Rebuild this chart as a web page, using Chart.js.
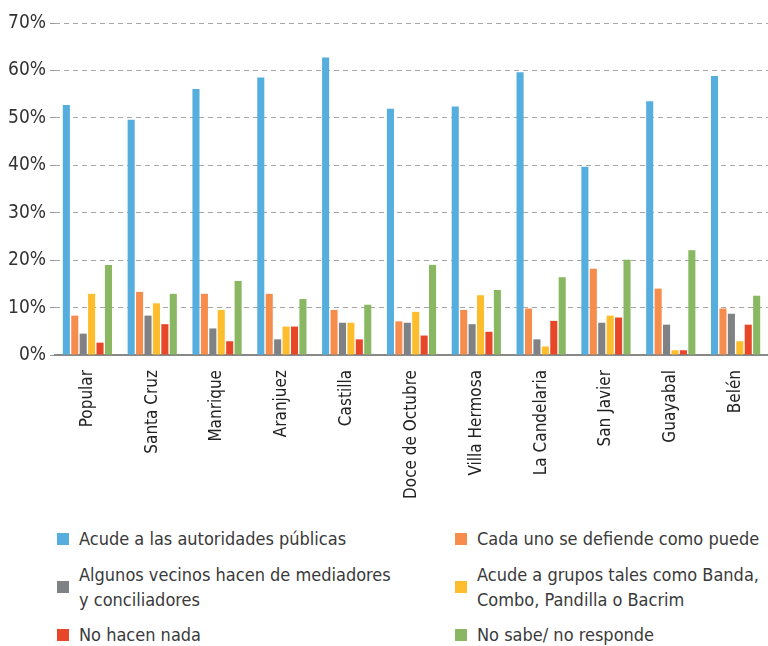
<!DOCTYPE html>
<html>
<head>
<meta charset="utf-8">
<script src="https://cdn.jsdelivr.net/npm/chart.js"></script>
<style>
  body { margin: 0; background: #fff; }
  #wrap { position: relative; width: 768px; height: 646px; }
  #box { position: absolute; left: 0; top: 0; width: 768px; height: 510px; }
  #legend { position: absolute; left: 0; top: 522px; width: 768px;
    font-family: "Liberation Sans Narrow", "DejaVu Sans Condensed", Roboto, sans-serif;
    font-size: 18px; color: #3a3a3a; }
  .item { position: absolute; display: flex; align-items: center; line-height: 25px; white-space: pre-line; }
  .sq { width: 12px; height: 12px; margin-right: 10px; flex: none; }
</style>
</head>
<body>
<div id="wrap">
  <div id="box"><canvas id="bar-chart"></canvas></div>
  <div id="legend"></div>
</div>
<script>
const barrios = ['Popular', 'Santa Cruz', 'Manrique', 'Aranjuez', 'Castilla', 'Doce de Octubre',
  'Villa Hermosa', 'La Candelaria', 'San Javier', 'Guayabal', 'Belén'];

const autoridades = [52.7, 49.6, 56.1, 58.5, 62.7, 51.9, 52.4, 59.6, 39.7, 53.5, 58.8];
const defiende    = [8.3, 13.3, 12.9, 12.9, 9.5, 7.1, 9.5, 9.8, 18.2, 14.0, 9.8];
const vecinos     = [4.5, 8.3, 5.6, 3.3, 6.8, 6.8, 6.5, 3.3, 6.8, 6.4, 8.7];
const grupos      = [12.9, 10.9, 9.5, 6.0, 6.8, 9.1, 12.6, 1.8, 8.3, 1.0, 2.9];
const nada        = [2.6, 6.5, 2.9, 6.0, 3.3, 4.1, 4.9, 7.2, 7.9, 1.0, 6.4];
const noSabe      = [19.0, 12.9, 15.6, 11.8, 10.6, 19.0, 13.7, 16.4, 20.1, 22.1, 12.5];

const seriesNames = [
  'Acude a las autoridades públicas',
  'Cada uno se defiende como puede',
  'Algunos vecinos hacen de mediadores\ny conciliadores',
  'Acude a grupos tales como Banda,\nCombo, Pandilla o Bacrim',
  'No hacen nada',
  'No sabe/ no responde'
];
const seriesData = [autoridades, defiende, vecinos, grupos, nada, noSabe];
const colors = ['#55aedd', '#f68d4c', '#808184', '#fdbd2d', '#e84628', '#8ab862'];

const fontFamily = '"Liberation Sans Narrow", "DejaVu Sans Condensed", Roboto, sans-serif';

const ctx = document.getElementById('bar-chart').getContext('2d');
const chart = new Chart(ctx, {
  type: 'bar',
  data: {
    labels: barrios,
    datasets: seriesData.map((d, i) => ({
      label: seriesNames[i],
      data: d,
      backgroundColor: colors[i],
      borderWidth: 0
    }))
  },
  options: {
    responsive: true,
    maintainAspectRatio: false,
    animation: false,
    layout: { padding: { top: 23, right: 0, left: 0, bottom: 0 } },
    datasets: {
      bar: { categoryPercentage: 0.78, barPercentage: 0.84 }
    },
    plugins: {
      legend: { display: false },
      tooltip: { enabled: false }
    },
    scales: {
      x: {
        grid: { display: false },
        border: { color: '#888', width: 2 },
        ticks: {
          color: '#222',
          minRotation: 90,
          maxRotation: 90,
          padding: 7,
          font: { family: fontFamily, size: 17 }
        },
        afterFit: scale => { scale.height = 155; }
      },
      y: {
        min: 0,
        max: 70,
        border: { display: false, dash: [5, 4] },
        grid: {
          color: '#a6a6a6',
          tickColor: '#999',
          tickLength: 5,
          tickBorderDash: [],
          lineWidth: 1
        },
        ticks: {
          stepSize: 10,
          color: '#333',
          padding: 4,
          font: { family: fontFamily, size: 19 },
          callback: v => v + '%'
        },
        afterFit: scale => { scale.width = 55; }
      }
    }
  }
});

// HTML legend in two columns, built from the datasets
const legend = document.getElementById('legend');
const rowTops = [4, 40, 100];
chart.data.datasets.forEach((ds, i) => {
  const el = document.createElement('div');
  el.className = 'item';
  el.style.left = (i % 2 === 0 ? 57 : 455) + 'px';
  el.style.top = rowTops[Math.floor(i / 2)] + 'px';
  const sq = document.createElement('span');
  sq.className = 'sq';
  sq.style.background = ds.backgroundColor;
  const tx = document.createElement('span');
  tx.textContent = ds.label;
  el.appendChild(sq);
  el.appendChild(tx);
  legend.appendChild(el);
});
</script>
</body>
</html>
